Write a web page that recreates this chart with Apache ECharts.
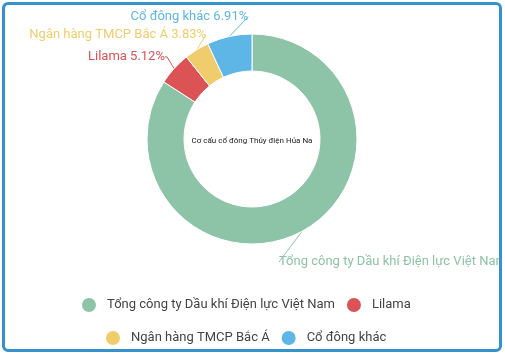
<!DOCTYPE html>
<html>
<head>
<meta charset="utf-8">
<script src="https://cdn.jsdelivr.net/npm/echarts@6/dist/echarts.min.js"></script>
<style>
html,body{margin:0;padding:0;background:#fff;}
#box{position:absolute;left:2px;top:2px;width:494px;height:344px;border:3px solid #3592cd;border-radius:6px;overflow:hidden;background:#fff;}
#chart{width:494px;height:344px;}
</style>
</head>
<body>
<div id="box"><div id="chart"></div></div>
<script>
const categories = ['Tổng công ty Dầu khí Điện lực Việt Nam', 'Lilama', 'Ngân hàng TMCP Bắc Á', 'Cổ đông khác'];
const values = [84.14, 5.12, 3.83, 6.91];
const colors = ['#8dc3a7', '#dc5355', '#f1cc6c', '#5db6e5'];
const centerTitle = 'Cơ cấu cổ đông Thủy điện Hủa Na';

// label nudges (style only)
const labelNudge = [[-35, 22], [1, -5], [19, -7], [28, -10]];

const legendBase = {
  padding: 0,
  itemGap: 10,
  itemWidth: 16,
  itemHeight: 16,
  icon: 'circle',
  textStyle: { fontSize: 13, color: '#444', fontFamily: 'Roboto', padding: [0, 0, 0, 5] }
};

const chart = echarts.init(document.getElementById('chart'));
chart.setOption({
  animation: false,
  color: colors,
  textStyle: { fontFamily: 'Roboto' },
  title: {
    text: centerTitle,
    left: 'center',
    top: 127,
    textStyle: { fontSize: 8, fontWeight: 'normal', color: '#222', fontFamily: 'Roboto' }
  },
  legend: [
    Object.assign({}, legendBase, { left: 75, top: 291, data: categories.slice(0, 2) }),
    Object.assign({}, legendBase, { left: 99, top: 324, data: categories.slice(2) })
  ],
  series: [{
    type: 'pie',
    center: ['50%', 134],
    radius: [68, 105],
    startAngle: 90,
    clockwise: true,
    itemStyle: { borderColor: '#fff', borderWidth: 1 },
    label: {
      formatter: '{b} {d}%',
      fontSize: 13,
      fontFamily: 'Roboto',
      color: 'inherit',
      overflow: 'none'
    },
    labelLine: { length: 10, length2: 2, lineStyle: { width: 1 } },
    labelLayout: function (p) {
      const n = labelNudge[p.dataIndex];
      return {
        x: p.labelRect.x + n[0],
        y: p.labelRect.y + n[1],
        align: 'left',
        verticalAlign: 'top'
      };
    },
    data: categories.map((c, i) => ({ name: c, value: values[i] }))
  }]
});
</script>
</body>
</html>
